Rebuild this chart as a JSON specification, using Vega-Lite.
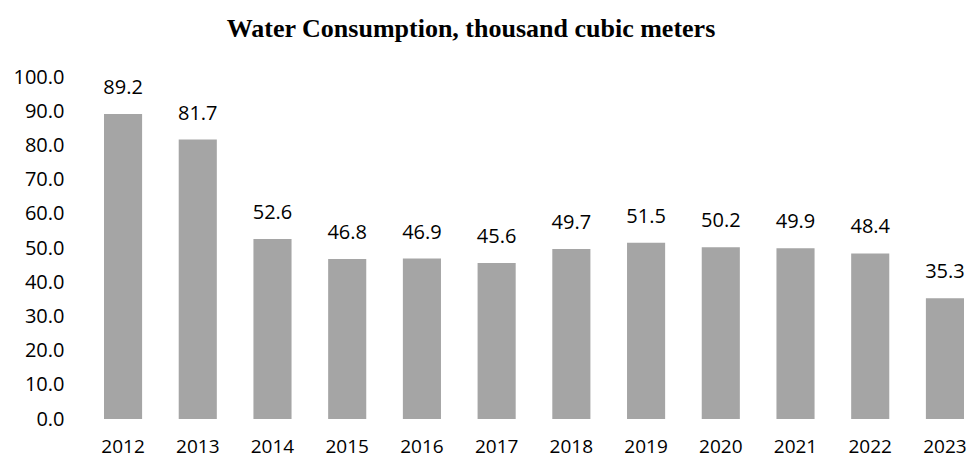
{
  "$schema": "https://vega.github.io/schema/vega-lite/v6.json",
  "autosize": "none",
  "width": 860,
  "height": 342,
  "padding": {"left": 104, "top": 77, "right": 7, "bottom": 40},
  "background": "white",
  "title": {
    "text": "Water Consumption, thousand cubic meters",
    "font": "Liberation Serif",
    "fontSize": 26,
    "fontWeight": "bold",
    "color": "#000000",
    "anchor": "middle",
    "dx": -63,
    "offset": 25
  },
  "data": {
    "values": [
      {"year": "2012", "value": 89.2},
      {"year": "2013", "value": 81.7},
      {"year": "2014", "value": 52.6},
      {"year": "2015", "value": 46.8},
      {"year": "2016", "value": 46.9},
      {"year": "2017", "value": 45.6},
      {"year": "2018", "value": 49.7},
      {"year": "2019", "value": 51.5},
      {"year": "2020", "value": 50.2},
      {"year": "2021", "value": 49.9},
      {"year": "2022", "value": 48.4},
      {"year": "2023", "value": 35.3}
    ]
  },
  "config": {"view": {"stroke": null}},
  "encoding": {
    "x": {
      "field": "year",
      "type": "nominal",
      "title": null,
      "scale": {"paddingInner": 0.49, "paddingOuter": 0},
      "axis": {
        "domain": false,
        "ticks": false,
        "labelAngle": 0,
        "labelFont": "Open Sans",
        "labelFontSize": 19,
        "labelColor": "#000000",
        "labelPadding": 18
      }
    },
    "y": {
      "field": "value",
      "type": "quantitative",
      "title": null,
      "scale": {"domain": [0, 100], "nice": false},
      "axis": {
        "domain": false,
        "ticks": false,
        "grid": false,
        "values": [0, 10, 20, 30, 40, 50, 60, 70, 80, 90, 100],
        "format": ".1f",
        "labelFont": "Open Sans",
        "labelFontSize": 20,
        "labelColor": "#000000",
        "labelPadding": 40
      }
    }
  },
  "layer": [
    {"mark": {"type": "bar", "color": "#a5a5a5"}},
    {
      "mark": {
        "type": "text",
        "baseline": "alphabetic",
        "dy": -20,
        "font": "Open Sans",
        "fontSize": 20,
        "color": "#000000"
      },
      "encoding": {"text": {"field": "value", "type": "quantitative", "format": ".1f"}}
    }
  ]
}
